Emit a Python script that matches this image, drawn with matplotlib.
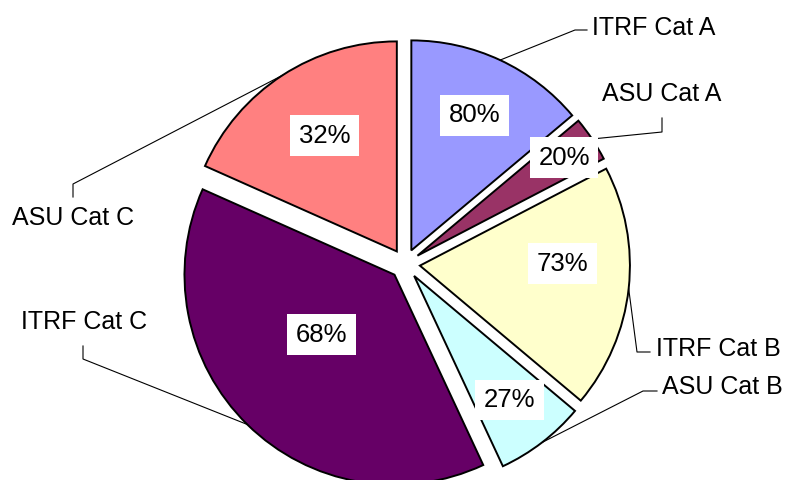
import numpy as np
import matplotlib.pyplot as plt

plt.rcParams['font.family'] = ['Liberation Sans', 'DejaVu Sans']

# slice order: clockwise from 12 o'clock
names = ['ITRF Cat A', 'ASU Cat A', 'ITRF Cat B', 'ASU Cat B', 'ITRF Cat C', 'ASU Cat C']
values = [50, 12.5, 67.5, 25, 139, 66]
pct_labels = ['80%', '20%', '73%', '27%', '68%', '32%']
colors = ['#9999FF', '#993366', '#FFFFCC', '#CCFFFF', '#660066', '#FF8080']

# layout (pixels of the 787x480 image)
CX, CY, R = 405, 264, 210
W, H = 787, 480


def px(x, y):
    return (x - CX) / R, (CY - y) / R


# percent label: distance from slice apex (in radii), angle offset (deg)
pct_pos = [(0.71, 0), (0.84, 0), (0.68, 7), (0.745, 0), (0.45, -6), (0.65, -1)]

# category labels: text anchor (px), alignment, leader end / elbow (px)
cat_text = [
    ((592, 28), 'left', (587, 30), (575, 30)),
    ((662, 94), 'center', (662, 118), (662, 132)),
    ((656, 349), 'left', (650, 352), (637, 352)),
    ((662, 387), 'left', (657, 391), (643, 391)),
    ((84, 322), 'center', (83, 346), (83, 359)),
    ((73, 218), 'center', (73, 197), (73, 184)),
]

fig = plt.figure(figsize=(W / 100, H / 100), dpi=100)
ax = fig.add_axes([0, 0, 1, 1])

wedges, _ = ax.pie(values, colors=colors, startangle=90, counterclock=False,
                   explode=[15 / R] * len(values), radius=1,
                   wedgeprops=dict(edgecolor='black', linewidth=1.4))

for w, lab, (d, off) in zip(wedges, pct_labels, pct_pos):
    mid = np.deg2rad((w.theta1 + w.theta2) / 2 + off)
    cx, cy = w.center
    ax.text(cx + d * np.cos(mid), cy + d * np.sin(mid), lab, fontsize=18.5,
            ha='center', va='center', zorder=5,
            bbox=dict(boxstyle='square,pad=0.33', fc='white', ec='none'))

for w, name, (tp, ha, end, elbow) in zip(wedges, names, cat_text):
    mid = np.deg2rad((w.theta1 + w.theta2) / 2)
    cx, cy = w.center
    rim = (cx + np.cos(mid), cy + np.sin(mid))
    e1 = px(*elbow)
    e2 = px(*end)
    ax.plot([rim[0], e1[0], e2[0]], [rim[1], e1[1], e2[1]], color='black',
            linewidth=0.8, zorder=1)
    tx, ty = px(*tp)
    ax.text(tx, ty, name, fontsize=18, ha=ha, va='center')

ax.set_xlim(-CX / R, (W - CX) / R)
ax.set_ylim(-(H - CY) / R, CY / R)
ax.axis('off')

plt.savefig('out.png', dpi=100)
